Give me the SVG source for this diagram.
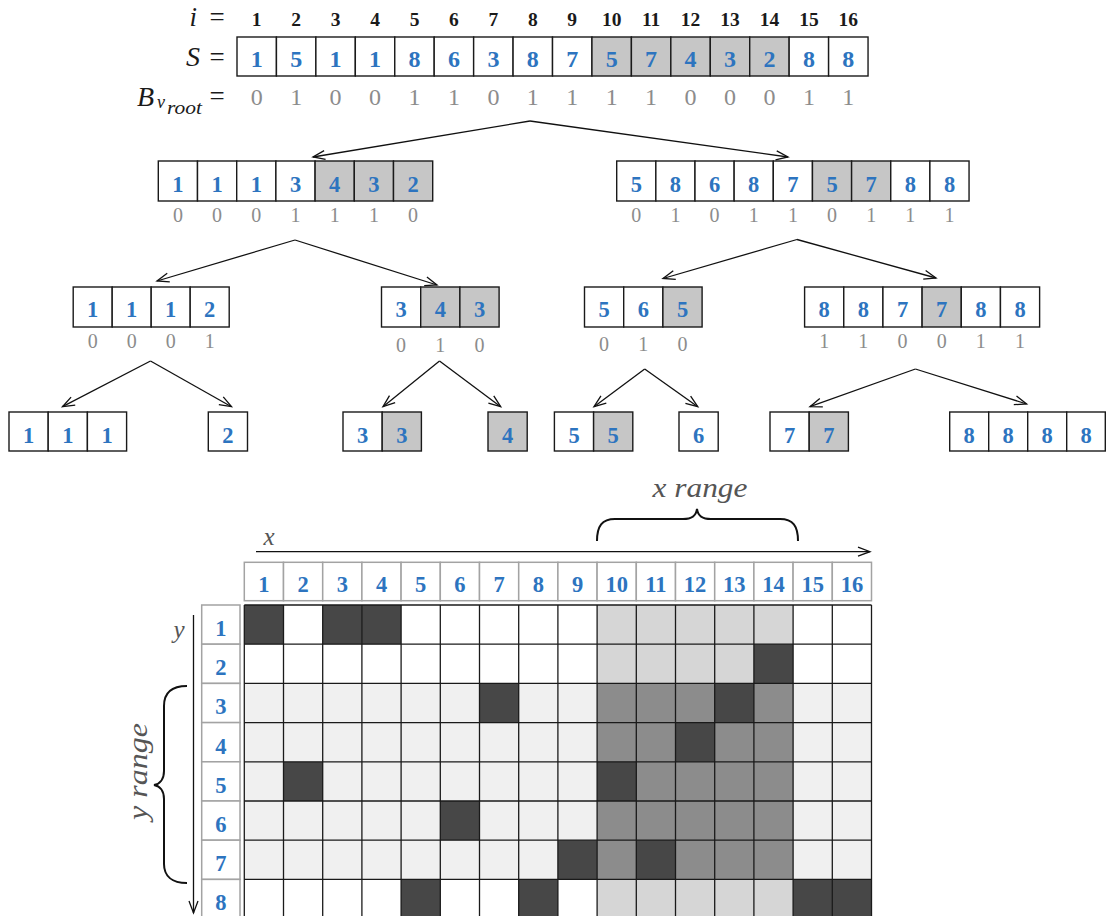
<svg xmlns="http://www.w3.org/2000/svg" width="1106" height="916" viewBox="0 0 1106 916">
<defs>
<style>
.c{fill:#fff;stroke:#1a1a1a;stroke-width:1.4}
.cg{fill:#c6c6c6;stroke:#1a1a1a;stroke-width:1.4}
.d{font-family:"Liberation Serif",serif;font-weight:bold;font-size:22.5px;fill:#2d74bf;text-anchor:middle}
.ds{font-family:"Liberation Serif",serif;font-weight:bold;font-size:24px;fill:#2d74bf;text-anchor:middle}
.b{font-family:"Liberation Serif",serif;font-size:20px;fill:#8c8c8c;text-anchor:middle}
.bt{font-family:"Liberation Serif",serif;font-size:24px;fill:#8c8c8c;text-anchor:middle}
.ix{font-family:"Liberation Serif",serif;font-weight:bold;font-size:19.5px;fill:#1a1a1a;text-anchor:middle}
.m{font-family:"Liberation Serif",serif;font-style:italic;fill:#1a1a1a}
.eq{font-family:"Liberation Serif",serif;font-size:27px;fill:#1a1a1a;text-anchor:middle}
.ax{font-family:"Liberation Serif",serif;font-style:italic;fill:#555}
.conn{stroke:#111;stroke-width:1.3;fill:none;marker-end:url(#ah)}
.hc{fill:#fff;stroke:#a3a3a3;stroke-width:1.5}
.gl{stroke:#1a1a1a;stroke-width:1.3}
.dk{fill:#474747}
</style>
<marker id="ah" markerUnits="userSpaceOnUse" markerWidth="14" markerHeight="12" refX="12" refY="6" orient="auto" overflow="visible">
<path d="M0,1.5 L12,6 L0,10.5" fill="none" stroke="#111" stroke-width="1.3"/>
</marker>
</defs>
<rect width="1106" height="916" fill="#fff"/>

<!-- labels -->
<g id="labels">
<text class="m" x="197" y="26" font-size="27" text-anchor="end">i</text>
<text class="eq" x="217" y="26">=</text>
<text class="m" x="200" y="66" font-size="28" text-anchor="end">S</text>
<text class="eq" x="217" y="66">=</text>
<text class="m" x="137" y="106" font-size="28">B</text>
<text class="m" x="157" y="108" font-size="18">v</text>
<text class="m" x="167" y="114" font-size="18" textLength="35" lengthAdjust="spacingAndGlyphs">root</text>
<text class="eq" x="217" y="105">=</text>
</g>

<!-- index row -->
<g id="index">
<text class="ix" x="256.7" y="26">1</text><text class="ix" x="296.2" y="26">2</text><text class="ix" x="335.6" y="26">3</text><text class="ix" x="375" y="26">4</text>
<text class="ix" x="414.5" y="26">5</text><text class="ix" x="453.9" y="26">6</text><text class="ix" x="493.4" y="26">7</text><text class="ix" x="532.8" y="26">8</text>
<text class="ix" x="572.2" y="26">9</text><text class="ix" x="611.7" y="26">10</text><text class="ix" x="651.1" y="26">11</text><text class="ix" x="690.6" y="26">12</text>
<text class="ix" x="730" y="26">13</text><text class="ix" x="769.4" y="26">14</text><text class="ix" x="808.9" y="26">15</text><text class="ix" x="848.3" y="26">16</text>
</g>

<!-- root node S -->
<g id="node-root">
<rect class="c" x="237" y="37" width="39.44" height="39"/><rect class="c" x="276.44" y="37" width="39.44" height="39"/><rect class="c" x="315.88" y="37" width="39.44" height="39"/><rect class="c" x="355.32" y="37" width="39.44" height="39"/>
<rect class="c" x="394.76" y="37" width="39.44" height="39"/><rect class="c" x="434.2" y="37" width="39.44" height="39"/><rect class="c" x="473.64" y="37" width="39.44" height="39"/><rect class="c" x="513.08" y="37" width="39.44" height="39"/>
<rect class="c" x="552.52" y="37" width="39.44" height="39"/><rect class="cg" x="591.96" y="37" width="39.44" height="39"/><rect class="cg" x="631.4" y="37" width="39.44" height="39"/><rect class="cg" x="670.84" y="37" width="39.44" height="39"/>
<rect class="cg" x="710.28" y="37" width="39.44" height="39"/><rect class="cg" x="749.72" y="37" width="39.44" height="39"/><rect class="c" x="789.16" y="37" width="39.44" height="39"/><rect class="c" x="828.6" y="37" width="39.44" height="39"/>
<text class="ds" x="256.7" y="66.5">1</text><text class="ds" x="296.2" y="66.5">5</text><text class="ds" x="335.6" y="66.5">1</text><text class="ds" x="375" y="66.5">1</text>
<text class="ds" x="414.5" y="66.5">8</text><text class="ds" x="453.9" y="66.5">6</text><text class="ds" x="493.4" y="66.5">3</text><text class="ds" x="532.8" y="66.5">8</text>
<text class="ds" x="572.2" y="66.5">7</text><text class="ds" x="611.7" y="66.5">5</text><text class="ds" x="651.1" y="66.5">7</text><text class="ds" x="690.6" y="66.5">4</text>
<text class="ds" x="730" y="66.5">3</text><text class="ds" x="769.4" y="66.5">2</text><text class="ds" x="808.9" y="66.5">8</text><text class="ds" x="848.3" y="66.5">8</text>
<text class="bt" x="256.7" y="105">0</text><text class="bt" x="296.2" y="105">1</text><text class="bt" x="335.6" y="105">0</text><text class="bt" x="375" y="105">0</text>
<text class="bt" x="414.5" y="105">1</text><text class="bt" x="453.9" y="105">1</text><text class="bt" x="493.4" y="105">0</text><text class="bt" x="532.8" y="105">1</text>
<text class="bt" x="572.2" y="105">1</text><text class="bt" x="611.7" y="105">1</text><text class="bt" x="651.1" y="105">1</text><text class="bt" x="690.6" y="105">0</text>
<text class="bt" x="730" y="105">0</text><text class="bt" x="769.4" y="105">0</text><text class="bt" x="808.9" y="105">1</text><text class="bt" x="848.3" y="105">1</text>
</g>

<!-- level 1 left -->
<g id="node-l">
<rect class="c" x="158.3" y="161" width="39.2" height="40"/><rect class="c" x="197.5" y="161" width="39.2" height="40"/><rect class="c" x="236.7" y="161" width="39.2" height="40"/><rect class="c" x="275.9" y="161" width="39.2" height="40"/>
<rect class="cg" x="315.1" y="161" width="39.2" height="40"/><rect class="cg" x="354.3" y="161" width="39.2" height="40"/><rect class="cg" x="393.5" y="161" width="39.2" height="40"/>
<text class="d" x="177.9" y="191.5">1</text><text class="d" x="217.1" y="191.5">1</text><text class="d" x="256.3" y="191.5">1</text><text class="d" x="295.5" y="191.5">3</text>
<text class="d" x="334.7" y="191.5">4</text><text class="d" x="373.9" y="191.5">3</text><text class="d" x="413.1" y="191.5">2</text>
<text class="b" x="177.9" y="222">0</text><text class="b" x="217.1" y="222">0</text><text class="b" x="256.3" y="222">0</text><text class="b" x="295.5" y="222">1</text>
<text class="b" x="334.7" y="222">1</text><text class="b" x="373.9" y="222">1</text><text class="b" x="413.1" y="222">0</text>
</g>

<!-- level 1 right -->
<g id="node-r">
<rect class="c" x="616.7" y="161" width="39.15" height="40"/><rect class="c" x="655.85" y="161" width="39.15" height="40"/><rect class="c" x="695" y="161" width="39.15" height="40"/><rect class="c" x="734.15" y="161" width="39.15" height="40"/>
<rect class="c" x="773.3" y="161" width="39.15" height="40"/><rect class="cg" x="812.45" y="161" width="39.15" height="40"/><rect class="cg" x="851.6" y="161" width="39.15" height="40"/><rect class="c" x="890.75" y="161" width="39.15" height="40"/><rect class="c" x="929.9" y="161" width="39.15" height="40"/>
<text class="d" x="636.3" y="191.5">5</text><text class="d" x="675.4" y="191.5">8</text><text class="d" x="714.6" y="191.5">6</text><text class="d" x="753.7" y="191.5">8</text>
<text class="d" x="792.9" y="191.5">7</text><text class="d" x="832" y="191.5">5</text><text class="d" x="871.2" y="191.5">7</text><text class="d" x="910.3" y="191.5">8</text><text class="d" x="949.5" y="191.5">8</text>
<text class="b" x="636.3" y="222">0</text><text class="b" x="675.4" y="222">1</text><text class="b" x="714.6" y="222">0</text><text class="b" x="753.7" y="222">1</text>
<text class="b" x="792.9" y="222">1</text><text class="b" x="832" y="222">0</text><text class="b" x="871.2" y="222">1</text><text class="b" x="910.3" y="222">1</text><text class="b" x="949.5" y="222">1</text>
</g>

<!-- level 2 -->
<g id="node-ll">
<rect class="c" x="73.2" y="287" width="39" height="40"/><rect class="c" x="112.2" y="287" width="39" height="40"/><rect class="c" x="151.2" y="287" width="39" height="40"/><rect class="c" x="190.2" y="287" width="39" height="40"/>
<text class="d" x="92.7" y="317">1</text><text class="d" x="131.7" y="317">1</text><text class="d" x="170.7" y="317">1</text><text class="d" x="209.7" y="317">2</text>
<text class="b" x="92.7" y="348">0</text><text class="b" x="131.7" y="348">0</text><text class="b" x="170.7" y="348">0</text><text class="b" x="209.7" y="348">1</text>
</g>
<g id="node-lr">
<rect class="c" x="381.5" y="287" width="39.2" height="40"/><rect class="cg" x="420.7" y="287" width="39.2" height="40"/><rect class="cg" x="459.9" y="287" width="39.2" height="40"/>
<text class="d" x="401.1" y="317">3</text><text class="d" x="440.3" y="317">4</text><text class="d" x="479.5" y="317">3</text>
<text class="b" x="401.1" y="352">0</text><text class="b" x="440.3" y="352">1</text><text class="b" x="479.5" y="352">0</text>
</g>
<g id="node-rl">
<rect class="c" x="584.5" y="287" width="39.2" height="40"/><rect class="c" x="623.7" y="287" width="39.2" height="40"/><rect class="cg" x="662.9" y="287" width="39.2" height="40"/>
<text class="d" x="604.1" y="317">5</text><text class="d" x="643.3" y="317">6</text><text class="d" x="682.5" y="317">5</text>
<text class="b" x="604.1" y="351">0</text><text class="b" x="643.3" y="351">1</text><text class="b" x="682.5" y="351">0</text>
</g>
<g id="node-rr">
<rect class="c" x="804.6" y="287" width="39.17" height="40"/><rect class="c" x="843.77" y="287" width="39.17" height="40"/><rect class="c" x="882.94" y="287" width="39.17" height="40"/><rect class="cg" x="922.11" y="287" width="39.17" height="40"/><rect class="c" x="961.28" y="287" width="39.17" height="40"/><rect class="c" x="1000.45" y="287" width="39.17" height="40"/>
<text class="d" x="824.2" y="317">8</text><text class="d" x="863.3" y="317">8</text><text class="d" x="902.5" y="317">7</text><text class="d" x="941.7" y="317">7</text><text class="d" x="980.8" y="317">8</text><text class="d" x="1020" y="317">8</text>
<text class="b" x="824.2" y="348">1</text><text class="b" x="863.3" y="348">1</text><text class="b" x="902.5" y="348">0</text><text class="b" x="941.7" y="348">0</text><text class="b" x="980.8" y="348">1</text><text class="b" x="1020" y="348">1</text>
</g>

<!-- level 3 leaves -->
<g id="leaf-1">
<rect class="c" x="9" y="412" width="39.2" height="39"/><rect class="c" x="48.2" y="412" width="39.2" height="39"/><rect class="c" x="87.4" y="412" width="39.2" height="39"/>
<text class="d" x="28.6" y="443">1</text><text class="d" x="67.8" y="443">1</text><text class="d" x="107" y="443">1</text>
</g>
<g id="leaf-2">
<rect class="c" x="208.3" y="412" width="39.2" height="39"/>
<text class="d" x="227.9" y="443">2</text>
</g>
<g id="leaf-3">
<rect class="c" x="343" y="412" width="39.2" height="39"/><rect class="cg" x="382.2" y="412" width="39.2" height="39"/>
<text class="d" x="362.6" y="443">3</text><text class="d" x="401.8" y="443">3</text>
</g>
<g id="leaf-4">
<rect class="cg" x="488" y="412" width="39.2" height="39"/>
<text class="d" x="507.6" y="443">4</text>
</g>
<g id="leaf-5">
<rect class="c" x="554.4" y="412" width="39.2" height="39"/><rect class="cg" x="593.6" y="412" width="39.2" height="39"/>
<text class="d" x="574" y="443">5</text><text class="d" x="613.2" y="443">5</text>
</g>
<g id="leaf-6">
<rect class="c" x="679" y="412" width="39.2" height="39"/>
<text class="d" x="698.6" y="443">6</text>
</g>
<g id="leaf-7">
<rect class="c" x="770" y="412" width="39.2" height="39"/><rect class="cg" x="809.2" y="412" width="39.2" height="39"/>
<text class="d" x="789.6" y="443">7</text><text class="d" x="828.8" y="443">7</text>
</g>
<g id="leaf-8">
<rect class="c" x="949.7" y="412" width="39" height="39"/><rect class="c" x="988.7" y="412" width="39" height="39"/><rect class="c" x="1027.7" y="412" width="39" height="39"/><rect class="c" x="1066.7" y="412" width="38.6" height="39"/>
<text class="d" x="969.2" y="443">8</text><text class="d" x="1008.2" y="443">8</text><text class="d" x="1047.2" y="443">8</text><text class="d" x="1086.2" y="443">8</text>
</g>

<!-- connectors -->
<g id="connectors">
<line class="conn" x1="530" y1="121" x2="313" y2="157"/>
<line class="conn" x1="530" y1="121" x2="788" y2="157"/>
<line class="conn" x1="295" y1="240" x2="157" y2="281"/>
<line class="conn" x1="295" y1="240" x2="437" y2="285"/>
<line class="conn" x1="797" y1="239.5" x2="663" y2="278.5"/>
<line class="conn" x1="797" y1="239.5" x2="936" y2="278"/>
<line class="conn" x1="150.5" y1="361" x2="62.5" y2="406.7"/>
<line class="conn" x1="150.5" y1="361" x2="231.5" y2="406.7"/>
<line class="conn" x1="439.5" y1="361" x2="383" y2="406.7"/>
<line class="conn" x1="439.5" y1="361" x2="500.7" y2="406.7"/>
<line class="conn" x1="644.7" y1="369" x2="594" y2="406.7"/>
<line class="conn" x1="644.7" y1="369" x2="697.8" y2="406.7"/>
<line class="conn" x1="915.4" y1="369" x2="810" y2="406.7"/>
<line class="conn" x1="915.4" y1="369" x2="1026.6" y2="404"/>
</g>

<!-- grid plot -->
<g id="grid-plot">
<rect x="244.3" y="605" width="627.2" height="313.6" fill="#fff"/>
<rect x="244.3" y="683.4" width="627.2" height="196" fill="#f0f0f0"/>
<rect x="597.1" y="605" width="196" height="313.6" fill="#d6d6d6"/>
<rect x="597.1" y="683.4" width="196" height="196" fill="#8c8c8c"/>
<rect class="dk" x="244.3" y="605" width="39.2" height="39.2"/>
<rect class="dk" x="322.7" y="605" width="39.2" height="39.2"/>
<rect class="dk" x="361.9" y="605" width="39.2" height="39.2"/>
<rect class="dk" x="753.9" y="644.2" width="39.2" height="39.2"/>
<rect class="dk" x="479.5" y="683.4" width="39.2" height="39.2"/>
<rect class="dk" x="714.7" y="683.4" width="39.2" height="39.2"/>
<rect class="dk" x="675.5" y="722.6" width="39.2" height="39.2"/>
<rect class="dk" x="283.5" y="761.8" width="39.2" height="39.2"/>
<rect class="dk" x="597.1" y="761.8" width="39.2" height="39.2"/>
<rect class="dk" x="440.3" y="801" width="39.2" height="39.2"/>
<rect class="dk" x="557.9" y="840.2" width="39.2" height="39.2"/>
<rect class="dk" x="636.3" y="840.2" width="39.2" height="39.2"/>
<rect class="dk" x="401.1" y="879.4" width="39.2" height="39.2"/>
<rect class="dk" x="518.7" y="879.4" width="39.2" height="39.2"/>
<rect class="dk" x="793.1" y="879.4" width="39.2" height="39.2"/>
<rect class="dk" x="832.3" y="879.4" width="39.2" height="39.2"/>
<g class="gl">
<line x1="244.3" y1="605" x2="244.3" y2="918.6"/><line x1="283.5" y1="605" x2="283.5" y2="918.6"/><line x1="322.7" y1="605" x2="322.7" y2="918.6"/><line x1="361.9" y1="605" x2="361.9" y2="918.6"/>
<line x1="401.1" y1="605" x2="401.1" y2="918.6"/><line x1="440.3" y1="605" x2="440.3" y2="918.6"/><line x1="479.5" y1="605" x2="479.5" y2="918.6"/><line x1="518.7" y1="605" x2="518.7" y2="918.6"/>
<line x1="557.9" y1="605" x2="557.9" y2="918.6"/><line x1="597.1" y1="605" x2="597.1" y2="918.6"/><line x1="636.3" y1="605" x2="636.3" y2="918.6"/><line x1="675.5" y1="605" x2="675.5" y2="918.6"/>
<line x1="714.7" y1="605" x2="714.7" y2="918.6"/><line x1="753.9" y1="605" x2="753.9" y2="918.6"/><line x1="793.1" y1="605" x2="793.1" y2="918.6"/><line x1="832.3" y1="605" x2="832.3" y2="918.6"/><line x1="871.5" y1="605" x2="871.5" y2="918.6"/>
<line x1="244.3" y1="605" x2="871.5" y2="605"/><line x1="244.3" y1="644.2" x2="871.5" y2="644.2"/><line x1="244.3" y1="683.4" x2="871.5" y2="683.4"/><line x1="244.3" y1="722.6" x2="871.5" y2="722.6"/>
<line x1="244.3" y1="761.8" x2="871.5" y2="761.8"/><line x1="244.3" y1="801" x2="871.5" y2="801"/><line x1="244.3" y1="840.2" x2="871.5" y2="840.2"/><line x1="244.3" y1="879.4" x2="871.5" y2="879.4"/>
</g>
</g>

<!-- column headers -->
<g id="col-headers">
<rect class="hc" x="244.3" y="562.3" width="39.2" height="38.4"/><rect class="hc" x="283.5" y="562.3" width="39.2" height="38.4"/><rect class="hc" x="322.7" y="562.3" width="39.2" height="38.4"/><rect class="hc" x="361.9" y="562.3" width="39.2" height="38.4"/>
<rect class="hc" x="401.1" y="562.3" width="39.2" height="38.4"/><rect class="hc" x="440.3" y="562.3" width="39.2" height="38.4"/><rect class="hc" x="479.5" y="562.3" width="39.2" height="38.4"/><rect class="hc" x="518.7" y="562.3" width="39.2" height="38.4"/>
<rect class="hc" x="557.9" y="562.3" width="39.2" height="38.4"/><rect class="hc" x="597.1" y="562.3" width="39.2" height="38.4"/><rect class="hc" x="636.3" y="562.3" width="39.2" height="38.4"/><rect class="hc" x="675.5" y="562.3" width="39.2" height="38.4"/>
<rect class="hc" x="714.7" y="562.3" width="39.2" height="38.4"/><rect class="hc" x="753.9" y="562.3" width="39.2" height="38.4"/><rect class="hc" x="793.1" y="562.3" width="39.2" height="38.4"/><rect class="hc" x="832.3" y="562.3" width="39.2" height="38.4"/>
<text class="d" x="263.9" y="592">1</text><text class="d" x="303.1" y="592">2</text><text class="d" x="342.3" y="592">3</text><text class="d" x="381.5" y="592">4</text>
<text class="d" x="420.7" y="592">5</text><text class="d" x="459.9" y="592">6</text><text class="d" x="499.1" y="592">7</text><text class="d" x="538.3" y="592">8</text>
<text class="d" x="577.5" y="592">9</text><text class="d" x="616.7" y="592">10</text><text class="d" x="655.9" y="592">11</text><text class="d" x="695.1" y="592">12</text>
<text class="d" x="734.3" y="592">13</text><text class="d" x="773.5" y="592">14</text><text class="d" x="812.7" y="592">15</text><text class="d" x="851.9" y="592">16</text>
</g>

<!-- row headers -->
<g id="row-headers">
<rect class="hc" x="201.7" y="605" width="38.3" height="39.2"/><rect class="hc" x="201.7" y="644.2" width="38.3" height="39.2"/><rect class="hc" x="201.7" y="683.4" width="38.3" height="39.2"/><rect class="hc" x="201.7" y="722.6" width="38.3" height="39.2"/>
<rect class="hc" x="201.7" y="761.8" width="38.3" height="39.2"/><rect class="hc" x="201.7" y="801" width="38.3" height="39.2"/><rect class="hc" x="201.7" y="840.2" width="38.3" height="39.2"/><rect class="hc" x="201.7" y="879.4" width="38.3" height="39.2"/>
<text class="d" x="220.8" y="636">1</text><text class="d" x="220.8" y="675.2">2</text><text class="d" x="220.8" y="714.4">3</text><text class="d" x="220.8" y="753.6">4</text>
<text class="d" x="220.8" y="792.8">5</text><text class="d" x="220.8" y="832">6</text><text class="d" x="220.8" y="871.2">7</text><text class="d" x="220.8" y="910.4">8</text>
</g>

<!-- axes and braces -->
<g id="axes">
<line x1="256" y1="551.7" x2="870" y2="551.7" stroke="#111" stroke-width="1.3" marker-end="url(#ah)"/>
<line x1="193.5" y1="615" x2="193.5" y2="913" stroke="#111" stroke-width="1.3" marker-end="url(#ah)"/>
<text class="ax" x="269" y="545" font-size="25" text-anchor="middle">x</text>
<text class="ax" x="179" y="638" font-size="25" text-anchor="middle">y</text>
<path d="M597,541 C597,526 602,519 615,519 L683,519 C692,519 696,516 697,509 C698,516 702,519 711,519 L780,519 C793,519 798,526 798,541" fill="none" stroke="#111" stroke-width="2"/>
<text class="ax" x="700" y="497" font-size="27" text-anchor="middle" textLength="95" lengthAdjust="spacingAndGlyphs">x range</text>
<path d="M187,686 C172,686 164,693 164,706 L164,771 C164,779 160,784 154,785 C160,786 164,791 164,799 L164,864 C164,876 172,883 187,883" fill="none" stroke="#111" stroke-width="2"/>
<text class="ax" transform="translate(147,771.5) rotate(-90)" x="0" y="0" font-size="27" text-anchor="middle" textLength="97" lengthAdjust="spacingAndGlyphs">y range</text>
</g>
</svg>
